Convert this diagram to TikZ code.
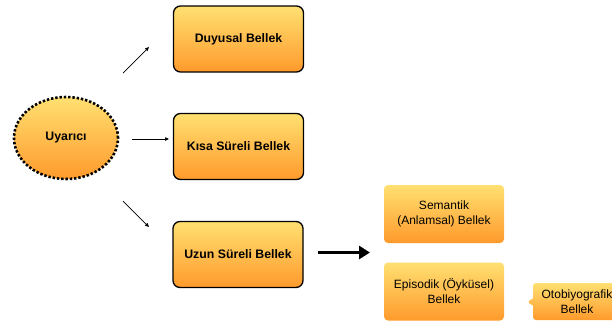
\documentclass[tikz,border=0pt]{standalone}
\usepackage{fontspec}
\setmainfont{Liberation Sans}
\usetikzlibrary{arrows.meta,shapes.geometric,shapes.callouts}
\definecolor{gtop}{HTML}{FFE071}
\definecolor{gbot}{HTML}{FF9A2C}
\tikzset{
  boldtxt/.style={font=\bfseries\fontsize{12.3}{14}\selectfont},
  mainbox/.style={draw=black, line width=1.3pt, rounded corners=7pt, top color=gtop, bottom color=gbot,
    minimum width=130pt, minimum height=66pt, boldtxt, align=center, inner sep=0pt},
  subbox/.style={rounded corners=4pt, top color=gtop, bottom color=gbot,
    minimum width=120pt, minimum height=58pt, font=\fontsize{12}{15}\selectfont, align=center, inner sep=0pt},
  thinarrow/.style={line width=0.7pt, -{Triangle[length=4pt,width=3.5pt]}},
  bigarrow/.style={line width=3.5pt, -{Triangle[length=11pt,width=13pt]}},
}
\begin{document}
\begin{tikzpicture}[x=1pt,y=-1pt]
\useasboundingbox (0,0) rectangle (612,325);
\node[ellipse, draw=black, line width=2.6pt, dash pattern=on 2.4pt off 1.9pt,
  top color=gtop, bottom color=gbot, minimum width=104pt, minimum height=82pt,
  boldtxt] (u) at (66,138) {Uyarıcı};
\node[mainbox] (d) at (238.5,39) {Duyusal Bellek};
\node[mainbox] (k) at (238.5,146.5) {Kısa Süreli Bellek};
\node[mainbox] (l) at (238,254.5) {Uzun Süreli Bellek};
\node[subbox] (s) at (444,214) {Semantik\\(Anlamsal) Bellek};
\node[subbox] (e) at (444,291.5) {Episodik (Öyküsel)\\Bellek};
\node[rectangle callout, callout absolute pointer={(527,302)}, rounded corners=3pt,
  top color=gtop, bottom color=gbot, minimum width=88pt, minimum height=37pt,
  font=\fontsize{12}{15}\selectfont, align=center, inner sep=0pt] (o) at (577,301.5) {Otobiyografik\\Bellek};
\coordinate (a1s) at (123,73);
\coordinate (a1e) at (149,47);
\coordinate (a2s) at (132,139);
\coordinate (a2e) at (169,139);
\coordinate (a3s) at (123,201);
\coordinate (a3e) at (149,227);
\coordinate (bs) at (318,252.5);
\coordinate (be) at (370,252.5);
\draw[thinarrow] (a1s) -- (a1e);
\draw[thinarrow] (a2s) -- (a2e);
\draw[thinarrow] (a3s) -- (a3e);
\draw[bigarrow] (bs) -- (be);
\end{tikzpicture}
\end{document}
